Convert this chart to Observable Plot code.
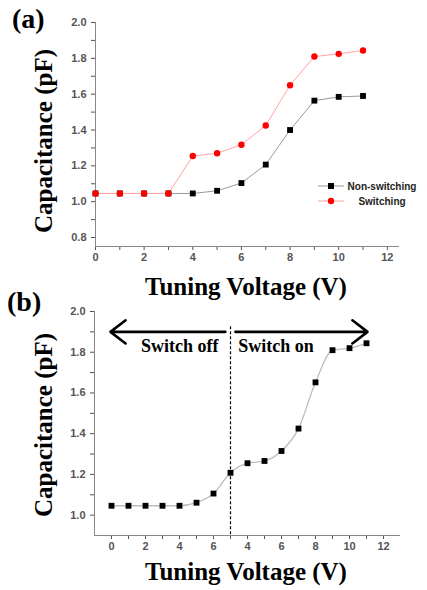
<!DOCTYPE html>
<html><head><meta charset="utf-8">
<script src="https://cdn.jsdelivr.net/npm/d3@7"></script>
<script src="https://cdn.jsdelivr.net/npm/@observablehq/plot@0.6"></script>
<style>
html,body{margin:0;padding:0;background:#fff;}
#wrap{position:relative;width:427px;height:590px;overflow:hidden;background:#fff;}
#wrap > svg{position:absolute;left:0;}
</style></head><body><div id="wrap"></div>
<script>
// ---- Panel (a) data ----
const voltage = [0, 1, 2, 3, 4, 5, 6, 7, 8, 9, 10, 11];
const nonSwitching = [1.046, 1.046, 1.046, 1.046, 1.046, 1.061, 1.104, 1.207, 1.400, 1.564, 1.585, 1.590];
const switching = [1.046, 1.046, 1.046, 1.046, 1.255, 1.270, 1.318, 1.425, 1.650, 1.810, 1.825, 1.844];
const seriesNames = ["Non-switching", "Switching"];
const xTicksA = [0, 1, 2, 3, 4, 5, 6, 7, 8, 9, 10, 11, 12];
const yTicksA = [0.8, 0.9, 1.0, 1.1, 1.2, 1.3, 1.4, 1.5, 1.6, 1.7, 1.8, 1.9, 2.0];

// ---- Panel (b) data ----
const bPosition = [0, 1, 2, 3, 4, 5, 6, 7, 8, 9, 10, 11, 12, 13, 14, 15];
const bCapacitance = [1.046, 1.046, 1.046, 1.046, 1.046, 1.061, 1.106, 1.208, 1.255, 1.266, 1.315, 1.425, 1.652, 1.810, 1.820, 1.844];
const bTickPositions = [0, 1, 2, 3, 4, 5, 6, 7, 8, 9, 10, 11, 12, 13, 14, 15, 16];
const bTickLabels = ["0", "", "2", "", "4", "", "6", "", "4", "", "6", "", "8", "", "10", "", "12"];
const yTicksB = [1.0, 1.1, 1.2, 1.3, 1.4, 1.5, 1.6, 1.7, 1.8, 1.9, 2.0];
const switchVoltage = [7];
const annotationLabels = ["Switch off", "Switch on"];

const dataA = voltage.map((v, i) => ({v, ns: nonSwitching[i], sw: switching[i]}));
const dataB = bPosition.map((p, i) => ({p, c: bCapacitance[i]}));

const tickStyle = {fontFamily: "'Liberation Sans', Arial, sans-serif", fontSize: "11px", fontWeight: "bold", color: "#555", background: "transparent", overflow: "visible"};
const yFmt = d => (Math.round(d * 10) % 2 === 0 ? d.toFixed(1) : "");

const plotA = Plot.plot({
  width: 427, height: 290,
  marginLeft: 95, marginRight: 28, marginTop: 22, marginBottom: 44,
  x: {domain: [0, 12.5]},
  y: {domain: [0.75, 2.0]},
  style: tickStyle,
  marks: [
    Plot.axisX({ticks: xTicksA, tickFormat: d => (d % 2 === 0 ? String(d) : ""), tickSize: 4, tickPadding: 3, label: null}),
    Plot.axisY({ticks: yTicksA, tickFormat: yFmt, tickSize: 4, tickPadding: 5, label: null}),
    Plot.ruleX([0], {stroke: "#888"}),
    Plot.ruleY([0.75], {stroke: "#888"}),
    Plot.line(dataA, {x: "v", y: "ns", stroke: "#9a9a9a", strokeWidth: 1}),
    Plot.line(dataA, {x: "v", y: "sw", stroke: "#ffa4a4", strokeWidth: 1}),
    Plot.dot(dataA, {x: "v", y: "ns", symbol: "square", r: 3.3, fill: "#000"}),
    Plot.dot(dataA, {x: "v", y: "sw", symbol: "circle", r: 3.2, fill: "#f00"})
  ]
});
plotA.style.top = "0px";

const arrows = [
  {x1: 6.7, x2: -0.06, y: 1.9},
  {x1: 7.29, x2: 15.06, y: 1.9}
];
const labelPos = [{x: 6.29, y: 1.83}, {x: 7.45, y: 1.83}];

const plotB = Plot.plot({
  width: 427, height: 300,
  marginLeft: 94, marginRight: 27, marginTop: 21, marginBottom: 55,
  x: {domain: [-1, 17]},
  y: {domain: [0.9, 2.0]},
  style: tickStyle,
  marks: [
    Plot.axisX({ticks: bTickPositions, tickFormat: d => bTickLabels[bTickPositions.indexOf(d)], tickSize: 4, tickPadding: 3, label: null}),
    Plot.axisY({ticks: yTicksB, tickFormat: yFmt, tickSize: 4, tickPadding: 5, label: null}),
    Plot.ruleX([-1], {stroke: "#888"}),
    Plot.ruleY([0.9], {stroke: "#888"}),
    Plot.ruleX(switchVoltage, {y1: 1.925, y2: 0.9, stroke: "#000", strokeWidth: 1.2, strokeDasharray: "3,2"}),
    Plot.line(dataB, {x: "p", y: "c", stroke: "#bdbdbd", strokeWidth: 1.3, curve: "monotone-x"}),
    Plot.dot(dataB, {x: "p", y: "c", symbol: "square", r: 3.3, fill: "#000"}),
    Plot.arrow(arrows, {x1: "x1", x2: "x2", y1: "y", y2: "y", stroke: "#000", strokeWidth: 2.6, headLength: 11, headAngle: 75}),
    Plot.text([labelPos[0]], {x: "x", y: "y", text: () => annotationLabels[0], textAnchor: "end", fontFamily: "'Liberation Serif', 'Times New Roman', serif", fontSize: 18, fontWeight: "bold", fill: "#000"}),
    Plot.text([labelPos[1]], {x: "x", y: "y", text: () => annotationLabels[1], textAnchor: "start", fontFamily: "'Liberation Serif', 'Times New Roman', serif", fontSize: 18, fontWeight: "bold", fill: "#000"})
  ]
});
plotB.style.top = "290px";

const wrap = document.getElementById("wrap");
wrap.appendChild(plotA);
wrap.appendChild(plotB);

// overlay with panel labels, axis titles and legend
const ov = d3.select(wrap).append("svg")
  .attr("width", 427).attr("height", 590)
  .style("position", "absolute").style("top", "0px").style("left", "0px")
  .style("pointer-events", "none");
const serif = "'Liberation Serif', 'Times New Roman', serif";
function title(txt, x, y, size, anchor, rotate) {
  const t = ov.append("text").text(txt)
    .attr("font-family", serif).attr("font-weight", "bold")
    .attr("font-size", size).attr("text-anchor", anchor).attr("fill", "#000");
  if (rotate) t.attr("transform", `translate(${x},${y}) rotate(-90)`);
  else t.attr("x", x).attr("y", y);
}
title("(a)", 12, 28, 28, "start");
title("(b)", 7, 311, 28, "start");
title("Capacitance (pF)", 52, 141, 25, "middle", true);
title("Capacitance (pF)", 52, 425, 25, "middle", true);
title("Tuning Voltage (V)", 246, 294.5, 25, "middle");
title("Tuning Voltage (V)", 246, 580, 25, "middle");

// legend for panel (a)
const legendY = [186, 201];
const legendStroke = ["#9a9a9a", "#ffa4a4"];
seriesNames.forEach((name, i) => {
  const y = legendY[i];
  ov.append("line").attr("x1", 318).attr("x2", 344).attr("y1", y).attr("y2", y)
    .attr("stroke", legendStroke[i]).attr("stroke-width", 1);
  if (i === 0) ov.append("rect").attr("x", 328).attr("y", y - 3).attr("width", 6).attr("height", 6).attr("fill", "#000");
  else ov.append("circle").attr("cx", 331).attr("cy", y).attr("r", 3.2).attr("fill", "#f00");
  ov.append("text").text(name).attr("x", 382).attr("y", y + 3.6)
    .attr("text-anchor", "middle").attr("font-family", "'Liberation Sans', Arial, sans-serif")
    .attr("font-weight", "bold").attr("font-size", 10).attr("fill", "#222");
});
</script></body></html>
